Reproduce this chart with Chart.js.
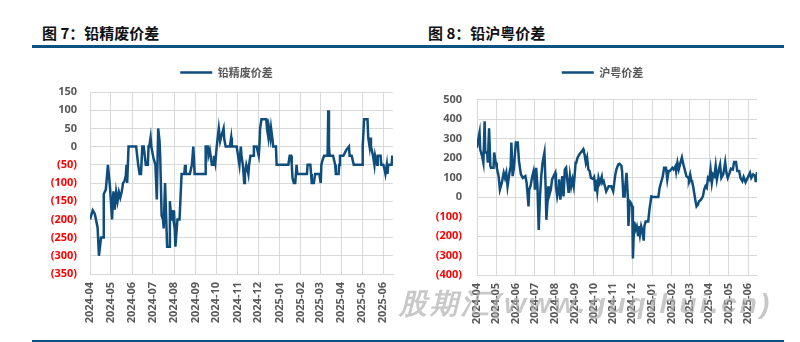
<!DOCTYPE html>
<html>
<head>
<meta charset="utf-8">
<script src="https://cdn.jsdelivr.net/npm/chart.js@4.4.1/dist/chart.umd.min.js"></script>
<style>
  html, body { margin: 0; padding: 0; background: #fff; }
  body { width: 800px; height: 342px; position: relative; overflow: hidden; }
  .title { position: absolute; top: 22px; font-family: "Noto Sans CJK SC", sans-serif; font-weight: 700; font-size: 15px; color: #111; white-space: nowrap; }
  .rule { position: absolute; background: #0b5283; }
  .box { position: absolute; }
  .wm { position: absolute; left: 399px; top: 285px; font-family: "Liberation Sans", Arial, sans-serif; font-weight: 700; font-style: italic; font-size: 28px; letter-spacing: 3px; color: rgba(170,170,170,0.65); white-space: nowrap; pointer-events: none; }
</style>
</head>
<body>
<div class="title" style="left:42px;">图 7：铅精废价差</div>
<div class="title" style="left:428px;">图 8：铅沪粤价差</div>
<div class="rule" style="left:32px; top:45px; width:752px; height:3px;"></div>
<div class="rule" style="left:32px; top:340px; width:752px; height:2px;"></div>
<div class="box" style="left:42px; top:55px; width:370px; height:285px;"><canvas id="c1"></canvas></div>
<div class="box" style="left:420px; top:55px; width:366px; height:285px;"><canvas id="c2"></canvas></div>
<div class="wm">股期汇(www.guqihui.cn)</div>
<script>
// ---------- data ----------
const monthLabels = ['2024-04','2024-05','2024-06','2024-07','2024-08','2024-09','2024-10','2024-11','2024-12','2025-01','2025-02','2025-03','2025-04','2025-05','2025-06'];

const leadRefinedScrapDates = [
'2024-04-01','2024-04-05','2024-04-08','2024-04-12','2024-04-14','2024-04-17','2024-04-20','2024-04-21','2024-04-24','2024-04-27',
'2024-04-30','2024-05-03','2024-05-05','2024-05-07','2024-05-09','2024-05-11','2024-05-13','2024-05-15','2024-05-17','2024-05-19',
'2024-05-21','2024-05-23','2024-05-24','2024-05-25','2024-05-27','2024-06-07','2024-06-10','2024-06-12','2024-06-14','2024-06-16',
'2024-06-18','2024-06-21','2024-06-24','2024-06-25','2024-06-26','2024-06-28','2024-06-29','2024-07-02','2024-07-05','2024-07-07',
'2024-07-09','2024-07-11','2024-07-12','2024-07-14','2024-07-16','2024-07-17','2024-07-19','2024-07-22','2024-07-25','2024-07-26',
'2024-07-28','2024-07-29','2024-07-31','2024-08-01','2024-08-03','2024-08-06','2024-08-09','2024-08-12','2024-08-16','2024-08-17',
'2024-08-18','2024-08-24','2024-08-27','2024-08-29','2024-08-31','2024-09-15','2024-09-16','2024-09-19','2024-09-20','2024-09-22',
'2024-09-25','2024-09-27','2024-09-28','2024-09-30','2024-10-02','2024-10-05','2024-10-07','2024-10-09','2024-10-12','2024-10-13',
'2024-10-15','2024-10-21','2024-10-23','2024-10-24','2024-10-31','2024-11-02','2024-11-04','2024-11-06','2024-11-07','2024-11-09',
'2024-11-11','2024-11-12','2024-11-14','2024-11-16','2024-11-17','2024-11-18','2024-11-20','2024-11-24','2024-11-25','2024-11-29',
'2024-12-02','2024-12-03','2024-12-04','2024-12-06','2024-12-13','2024-12-14','2024-12-16','2024-12-17','2024-12-19','2024-12-20',
'2024-12-22','2024-12-23','2024-12-27','2024-12-28','2025-01-14','2025-01-16','2025-01-18','2025-01-19','2025-01-20','2025-01-22',
'2025-01-24','2025-01-26','2025-01-27','2025-02-10','2025-02-11','2025-02-15','2025-02-16','2025-02-17','2025-02-20','2025-02-22',
'2025-02-28','2025-03-02','2025-03-03','2025-03-05','2025-03-07','2025-03-12','2025-03-13','2025-03-14','2025-03-15','2025-03-20',
'2025-03-23','2025-03-24','2025-03-28','2025-03-29','2025-03-30','2025-04-04','2025-04-08','2025-04-12','2025-04-13','2025-04-16',
'2025-04-19','2025-05-01','2025-05-02','2025-05-04','2025-05-09','2025-05-10','2025-05-12','2025-05-13','2025-05-14','2025-05-17',
'2025-05-19','2025-05-20','2025-05-23','2025-05-24','2025-05-28','2025-05-29','2025-06-01','2025-06-03','2025-06-04','2025-06-06',
'2025-06-07','2025-06-08','2025-06-13','2025-06-14','2025-06-15'
];
const leadRefinedScrapValues = [
-200,-175,-185,-222,-300,-250,-250,-130,-118,-50,
-110,-200,-123,-173,-125,-150,-125,-140,-125,-100,
-95,-80,-50,-100,0,0,-50,-75,-75,0,
0,-50,-50,0,0,25,0,-30,-50,-145,
50,15,-30,-190,-200,-225,-100,-275,-275,-150,
-200,-175,-200,-175,-275,-200,-200,-75,-75,-50,
-75,-75,-50,0,-75,-75,0,0,-25,-10,
-50,-50,-25,-45,0,50,15,30,50,20,
0,0,25,0,0,-25,-50,0,-25,-50,
-100,-75,-50,-65,-75,-50,-25,-25,0,0,
-25,0,50,75,75,50,25,50,25,50,
20,0,0,-50,-50,-25,-25,-50,-85,-100,
-100,-50,-75,-75,-50,-50,-75,-100,-100,-75,
-75,-100,-50,-35,-25,-25,100,0,-25,-25,
-50,-75,-75,-50,-25,-25,-10,0,-25,-25,
-50,-50,0,75,75,25,0,25,0,-25,
-50,-25,-50,-25,-25,-50,-50,-65,-75,-50,
-75,-50,-50,-25,-50
];

const shanghaiGuangdongDates = [
'2024-04-01','2024-04-04','2024-04-05','2024-04-06','2024-04-09','2024-04-11','2024-04-13','2024-04-14','2024-04-17','2024-04-18',
'2024-04-20','2024-04-22','2024-04-23','2024-04-27','2024-04-28','2024-04-30','2024-05-01','2024-05-02','2024-05-05','2024-05-07',
'2024-05-10','2024-05-13','2024-05-15','2024-05-17','2024-05-19','2024-05-22','2024-05-24','2024-05-25','2024-05-27','2024-05-29',
'2024-06-01','2024-06-04','2024-06-06','2024-06-09','2024-06-12','2024-06-16','2024-06-18','2024-06-21','2024-06-22','2024-06-24',
'2024-06-27','2024-06-29','2024-06-30','2024-07-01','2024-07-03','2024-07-05','2024-07-07','2024-07-09','2024-07-11','2024-07-13',
'2024-07-16','2024-07-18','2024-07-19','2024-07-21','2024-07-22','2024-07-23','2024-07-26','2024-07-28','2024-08-02','2024-08-03',
'2024-08-05','2024-08-07','2024-08-08','2024-08-10','2024-08-13','2024-08-15','2024-08-17','2024-08-19','2024-08-21','2024-08-23',
'2024-08-25','2024-08-27','2024-08-29','2024-08-31','2024-09-03','2024-09-04','2024-09-06','2024-09-09','2024-09-13','2024-09-15',
'2024-09-16','2024-09-17','2024-09-19','2024-09-21','2024-09-23','2024-09-25','2024-09-27','2024-09-30','2024-10-02','2024-10-04',
'2024-10-05','2024-10-07','2024-10-09','2024-10-11','2024-10-14','2024-10-15','2024-10-17','2024-10-19','2024-10-21','2024-10-25',
'2024-10-29','2024-11-01','2024-11-04','2024-11-06','2024-11-09','2024-11-11','2024-11-14','2024-11-15','2024-11-17','2024-11-19',
'2024-11-20','2024-11-22','2024-11-24','2024-11-25','2024-11-27','2024-11-29','2024-12-01','2024-12-02','2024-12-04','2024-12-06',
'2024-12-08','2024-12-10','2024-12-11','2024-12-13','2024-12-15','2024-12-17','2024-12-19','2024-12-20','2024-12-22','2024-12-26',
'2024-12-28','2024-12-31','2025-01-03','2025-01-11','2025-01-13','2025-01-15','2025-01-18','2025-01-20','2025-01-23','2025-01-25',
'2025-01-27','2025-01-29','2025-02-02','2025-02-04','2025-02-07','2025-02-08','2025-02-10','2025-02-12','2025-02-14','2025-02-17',
'2025-02-18','2025-02-20','2025-02-22','2025-02-24','2025-02-27','2025-02-28','2025-03-02','2025-03-04','2025-03-05','2025-03-07',
'2025-03-10','2025-03-12','2025-03-14','2025-03-16','2025-03-19','2025-03-22','2025-03-24','2025-03-26','2025-03-28','2025-03-30',
'2025-04-01','2025-04-03','2025-04-05','2025-04-07','2025-04-09','2025-04-11','2025-04-13','2025-04-16','2025-04-18','2025-04-20',
'2025-04-23','2025-04-26','2025-04-28','2025-04-30','2025-05-03','2025-05-05','2025-05-08','2025-05-10','2025-05-13','2025-05-15',
'2025-05-18','2025-05-20','2025-05-23','2025-05-25','2025-05-28','2025-06-01','2025-06-04','2025-06-06','2025-06-09','2025-06-12',
'2025-06-13','2025-06-15'
];
const shanghaiGuangdongValues = [
253,314,331,245,210,176,388,228,228,176,
352,159,150,150,228,184,176,150,107,38,
72,124,98,124,55,124,159,279,107,150,
279,279,184,116,98,107,72,-48,38,55,
107,133,107,38,150,55,-169,3,107,176,
228,38,-117,-14,55,3,38,90,124,55,
3,38,90,-14,107,3,141,150,81,21,
107,55,90,55,176,176,202,219,236,245,
228,219,176,202,141,133,98,93,103,29,
90,29,98,72,103,72,81,55,29,55,
55,29,107,141,167,170,159,133,3,3,
55,124,3,-148,-22,-31,-48,-315,-126,-168,
-150,-195,-150,-195,-150,-177,-224,-150,-126,-126,
-65,3,0,0,47,72,107,150,150,90,
133,133,150,141,159,133,176,141,167,202,
184,159,133,107,98,90,116,81,81,47,
-14,-48,-40,-22,-14,3,38,55,47,98,
90,141,72,116,107,159,90,141,167,98,
116,179,124,98,124,145,141,179,179,133,
133,98,81,103,76,103,124,98,116,107,
76,128
];

// ---------- helpers ----------
const DAY_MS = 86400000;
const ORIGIN = Date.UTC(2024, 3, 1);
function dayIndex(s) {
  const p = s.split('-').map(Number);
  return (Date.UTC(p[0], p[1] - 1, p[2] || 1) - ORIGIN) / DAY_MS;
}
const monthTickValues = monthLabels.map(m => dayIndex(m + '-01'));
const X_MAX = dayIndex('2025-06-15');
const LINE_COLOR = '#0e4d7c';
const TEXT_GRAY = '#595959';
const GRID = '#d9d9d9';

function legendTweak(extra, dx) {
  return {
    id: 'legendTweak',
    beforeInit(chart) {
      const origFit = chart.legend.fit;
      chart.legend.fit = function () {
        origFit.bind(chart.legend)();
        this.height += extra;
      };
    },
    afterLayout(chart) {
      chart.legend.left += dx;
      chart.legend.right += dx;
    }
  };
}

function makeChart(id, name, dates, values, yMin, yMax, yStep, cfg) {
  const pts = dates.map((d, i) => ({ x: dayIndex(d), y: values[i] }));
  return new Chart(document.getElementById(id), {
    type: 'line',
    data: {
      datasets: [{
        label: name,
        data: pts,
        borderColor: LINE_COLOR,
        backgroundColor: LINE_COLOR,
        borderWidth: 2.5,
        pointRadius: 0,
        tension: 0,
        fill: false
      }]
    },
    options: {
      responsive: true,
      maintainAspectRatio: false,
      animation: false,
      layout: { padding: { top: 2, left: 0, right: cfg.padR, bottom: 0 } },
      plugins: {
        tooltip: { enabled: false },
        legend: {
          display: true,
          position: 'top',
          labels: {
            usePointStyle: true,
            pointStyle: 'line',
            pointStyleWidth: 32,
            padding: 10,
            color: TEXT_GRAY,
            font: { family: '"Noto Sans CJK SC", sans-serif', size: 11, weight: 'bold' }
          }
        }
      },
      scales: {
        x: {
          type: 'linear',
          min: 0,
          max: X_MAX,
          afterBuildTicks: s => { s.ticks = monthTickValues.map(v => ({ value: v })); },
          afterFit: s => { s.height = cfg.xHeight; },
          grid: { color: GRID, lineWidth: 1, drawTicks: false },
          border: { color: GRID, width: 1 },
          ticks: {
            autoSkip: false,
            maxRotation: 90,
            minRotation: 90,
            padding: 8,
            color: TEXT_GRAY,
            font: { family: '"Open Sans", sans-serif', size: 11, weight: 'bold' },
            callback: v => {
              const i = monthTickValues.indexOf(v);
              return i >= 0 ? monthLabels[i] : '';
            }
          }
        },
        y: {
          min: yMin,
          max: yMax,
          afterFit: s => { s.width = cfg.yWidth; },
          grid: { color: GRID, lineWidth: 1, drawTicks: false },
          border: { color: GRID, width: 1 },
          ticks: {
            stepSize: yStep,
            padding: cfg.yPad,
            color: c => (c.tick && c.tick.value < 0 ? '#ff0000' : TEXT_GRAY),
            font: { family: '"Open Sans", sans-serif', size: 11, weight: 'bold' },
            callback: v => (v < 0 ? '(' + Math.abs(v) + ')' : String(v))
          }
        }
      }
    },
    plugins: [legendTweak(cfg.gap, cfg.dx)]
  });
}

makeChart('c1', '铅精废价差', leadRefinedScrapDates, leadRefinedScrapValues, -350, 150, 50,
  { padR: 19, yWidth: 48, xHeight: 66, gap: 4, yPad: 13, dx: 9 });
makeChart('c2', '沪粤价差', shanghaiGuangdongDates, shanghaiGuangdongValues, -400, 500, 100,
  { padR: 29, yWidth: 57, xHeight: 65, gap: 11.5, yPad: 15, dx: 14 });
</script>
</body>
</html>
